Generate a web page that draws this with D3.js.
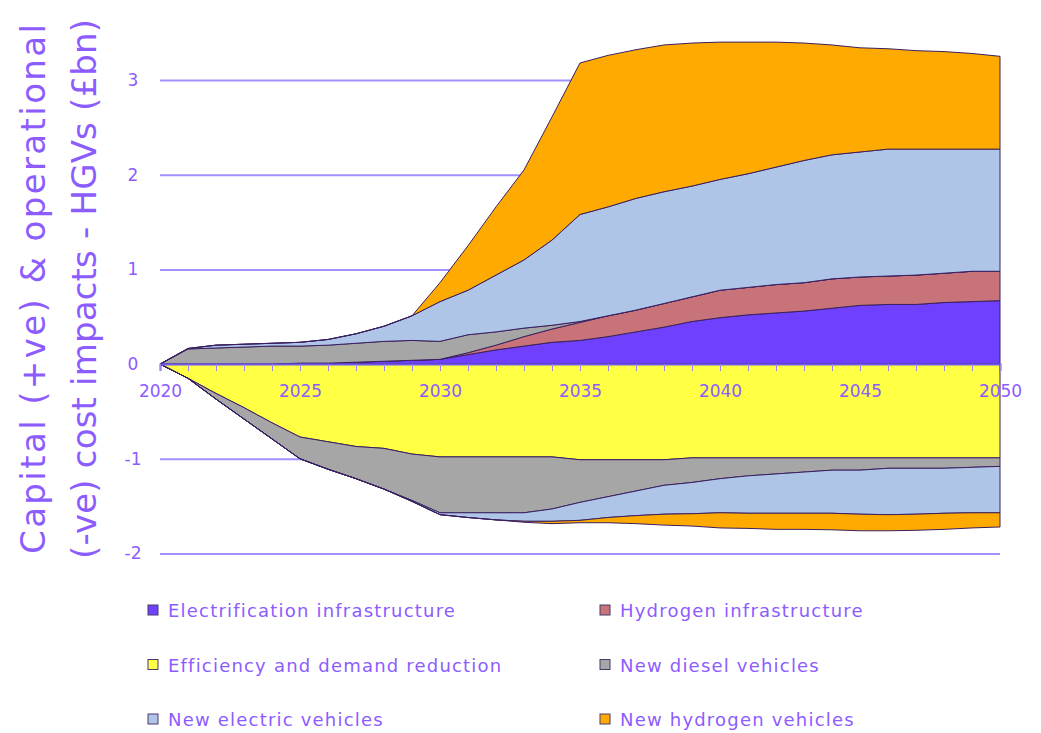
<!DOCTYPE html>
<html>
<head>
<meta charset="utf-8">
<script src="https://cdn.jsdelivr.net/npm/d3@7"></script>
<style>
  body { margin: 0; background: #fff; }
  svg { display: block; }
  text { font-family: "DejaVu Sans", sans-serif; fill: #8c5cff; }
</style>
</head>
<body>
<svg id="chart" width="1041" height="733"></svg>
<script>
// years along the x axis
var years = [2020,2021,2022,2023,2024,2025,2026,2027,2028,2029,2030,2031,2032,2033,2034,2035,
             2036,2037,2038,2039,2040,2041,2042,2043,2044,2045,2046,2047,2048,2049,2050];

// capital costs (+ve), £bn
var elecInfraCap = [0,0,0,0,0,0.01,0.01,0.02,0.03,0.04,0.05,0.10,0.15,0.19,0.23,0.25,
                    0.29,0.34,0.39,0.45,0.49,0.52,0.54,0.56,0.59,0.62,0.63,0.63,0.65,0.66,0.67];
var h2InfraCap   = [0,0,0,0,0,0,0,0,0,0,0,0.02,0.05,0.10,0.14,0.19,
                    0.22,0.23,0.25,0.26,0.29,0.29,0.30,0.30,0.31,0.30,0.30,0.31,0.31,0.32,0.31];
var efficiencyCap= [0,0,0,0,0,0,0,0,0,0,0,0,0,0,0,0,0,0,0,0,0,0,0,0,0,0,0,0,0,0,0];
var dieselCap    = [0,0.16,0.17,0.18,0.19,0.18,0.19,0.20,0.21,0.21,0.19,0.19,0.14,0.09,0.04,0.01,
                    0,0,0,0,0,0,0,0,0,0,0,0,0,0,0];
var electricCap  = [0,0.005,0.03,0.03,0.03,0.04,0.06,0.10,0.16,0.26,0.42,0.47,0.60,0.72,0.90,1.13,
                    1.15,1.18,1.18,1.17,1.17,1.20,1.24,1.29,1.31,1.32,1.34,1.33,1.31,1.29,1.29];
var h2VehCap     = [0,0,0,0,0,0,0,0,0,0,0.20,0.47,0.72,0.95,1.30,1.60,
                    1.60,1.57,1.55,1.51,1.45,1.39,1.32,1.24,1.16,1.10,1.06,1.04,1.03,1.01,0.98];

// operational costs (-ve), £bn
var elecInfraOp  = [0,0,0,0,0,0,0,0,0,0,0,0,0,0,0,0,0,0,0,0,0,0,0,0,0,0,0,0,0,0,0];
var h2InfraOp    = [0,0,0,0,0,0,0,0,0,0,0,0,0,0,0,0,0,0,0,0,0,0,0,0,0,0,0,0,0,0,0];
var efficiencyOp = [0,-0.15,-0.31,-0.46,-0.62,-0.77,-0.82,-0.87,-0.89,-0.95,-0.98,-0.98,-0.98,-0.98,-0.98,-1.01,
                    -1.01,-1.01,-1.01,-0.99,-0.99,-0.99,-0.99,-0.99,-0.99,-0.99,-0.99,-0.99,-0.99,-0.99,-0.99];
var dieselOp     = [0,0,-0.06,-0.12,-0.17,-0.23,-0.29,-0.34,-0.43,-0.49,-0.59,-0.59,-0.59,-0.59,-0.55,-0.45,
                    -0.39,-0.33,-0.27,-0.26,-0.22,-0.19,-0.17,-0.15,-0.13,-0.13,-0.11,-0.11,-0.11,-0.10,-0.09];
var electricOp   = [0,0,0,0,0,0,0,0,0,-0.01,-0.02,-0.05,-0.075,-0.09,-0.13,-0.19,
                    -0.22,-0.26,-0.305,-0.33,-0.36,-0.395,-0.415,-0.435,-0.455,-0.465,-0.49,-0.485,-0.475,-0.48,-0.49];
var h2VehOp      = [0,0,0,0,0,0,0,0,0,0,0,0,0,-0.01,-0.025,-0.025,
                    -0.055,-0.085,-0.115,-0.13,-0.16,-0.16,-0.17,-0.17,-0.175,-0.175,-0.17,-0.17,-0.17,-0.16,-0.15];

var keys = ["elecInfra","h2Infra","efficiency","diesel","electric","h2Veh"];
var labels = ["Electrification infrastructure","Hydrogen infrastructure","Efficiency and demand reduction",
              "New diesel vehicles","New electric vehicles","New hydrogen vehicles"];
var colors = ["#7040ff","#c8737a","#ffff44","#a6a6a6","#aec5e8","#ffaa00"];
var yTicks = [-2,-1,0,1,2,3];

var capCols = [elecInfraCap,h2InfraCap,efficiencyCap,dieselCap,electricCap,h2VehCap];
var opCols  = [elecInfraOp,h2InfraOp,efficiencyOp,dieselOp,electricOp,h2VehOp];

function table(cols) {
  return years.map(function (yr, i) {
    var row = {year: yr};
    keys.forEach(function (k, j) { row[k] = cols[j][i]; });
    return row;
  });
}

var svg = d3.select("#chart");
var x = d3.scaleLinear().domain([2020, 2050]).range([160, 1000]);
var y = d3.scaleLinear().domain([-2, 3]).range([553.5, 80]);

// gridlines
svg.append("g")
  .attr("transform", "translate(160,0)")
  .call(d3.axisLeft(y).tickValues(yTicks).tickSize(-840).tickFormat(""))
  .call(function (g) {
    g.select(".domain").remove();
    g.selectAll("line").attr("stroke", "#a48fff").attr("stroke-width", 2);
  });

var stack = d3.stack().keys(keys);
var area = d3.area()
  .x(function (d) { return x(d.data.year); })
  .y0(function (d) { return y(d[0]); })
  .y1(function (d) { return y(d[1]); });

[stack(table(capCols)), stack(table(opCols))].forEach(function (layers) {
  svg.append("g").selectAll("path")
    .data(layers.filter(function (s) { return s.some(function (d) { return d[0] !== d[1]; }); }))
    .enter().append("path")
    .attr("d", area)
    .attr("fill", function (d) { return colors[keys.indexOf(d.key)]; })
    .attr("stroke", "#3a2060")
    .attr("stroke-width", 1)
    .attr("stroke-linejoin", "round");
});

// x axis at zero
svg.append("g")
  .attr("transform", "translate(0," + y(0) + ")")
  .call(d3.axisBottom(x).tickValues(years).tickSize(7).tickPadding(14)
    .tickFormat(function (d) { return d % 5 === 0 ? d : ""; }))
  .call(function (g) {
    g.select(".domain").attr("stroke", "#7058f0").attr("stroke-width", 2);
    g.selectAll(".tick line").attr("stroke", "#9a88e8");
    g.selectAll("text").attr("font-size", 17).attr("fill", "#8c5cff")
      .style("font-family", "DejaVu Sans");
  });

// y labels
svg.append("g")
  .attr("transform", "translate(160,0)")
  .call(d3.axisLeft(y).tickValues(yTicks).tickSize(0).tickPadding(27)
    .tickFormat(function (d) { return String(d); }))
  .call(function (g) {
    g.select(".domain").remove();
    g.selectAll("text").attr("text-anchor", "middle").attr("font-size", 17)
      .attr("fill", "#8c5cff").style("font-family", "DejaVu Sans");
  });

// y title
var title = svg.append("text")
  .attr("transform", "translate(0,289) rotate(-90)")
  .attr("text-anchor", "middle")
  .attr("font-size", 34);
title.append("tspan").attr("x", 0).attr("y", 45)
  .attr("textLength", 530).attr("lengthAdjust", "spacing")
  .text("Capital (+ve) & operational");
title.append("tspan").attr("x", 0).attr("y", 96)
  .attr("textLength", 540).attr("lengthAdjust", "spacing")
  .text("(-ve) cost impacts - HGVs (£bn)");

// legend
var legend = svg.append("g").selectAll("g")
  .data(keys)
  .enter().append("g")
  .attr("transform", function (d, i) {
    return "translate(" + (i % 2 === 0 ? 148 : 600) + "," + (610 + Math.floor(i / 2) * 54.5) + ")";
  });
legend.append("rect")
  .attr("x", 0).attr("y", -5).attr("width", 10).attr("height", 10)
  .attr("fill", function (d, i) { return colors[i]; })
  .attr("stroke", "#4a3a6a").attr("stroke-width", 1);
legend.append("text")
  .attr("x", 20).attr("y", 7)
  .attr("font-size", 18)
  .attr("letter-spacing", 1.2)
  .text(function (d, i) { return labels[i]; });
</script>
</body>
</html>
